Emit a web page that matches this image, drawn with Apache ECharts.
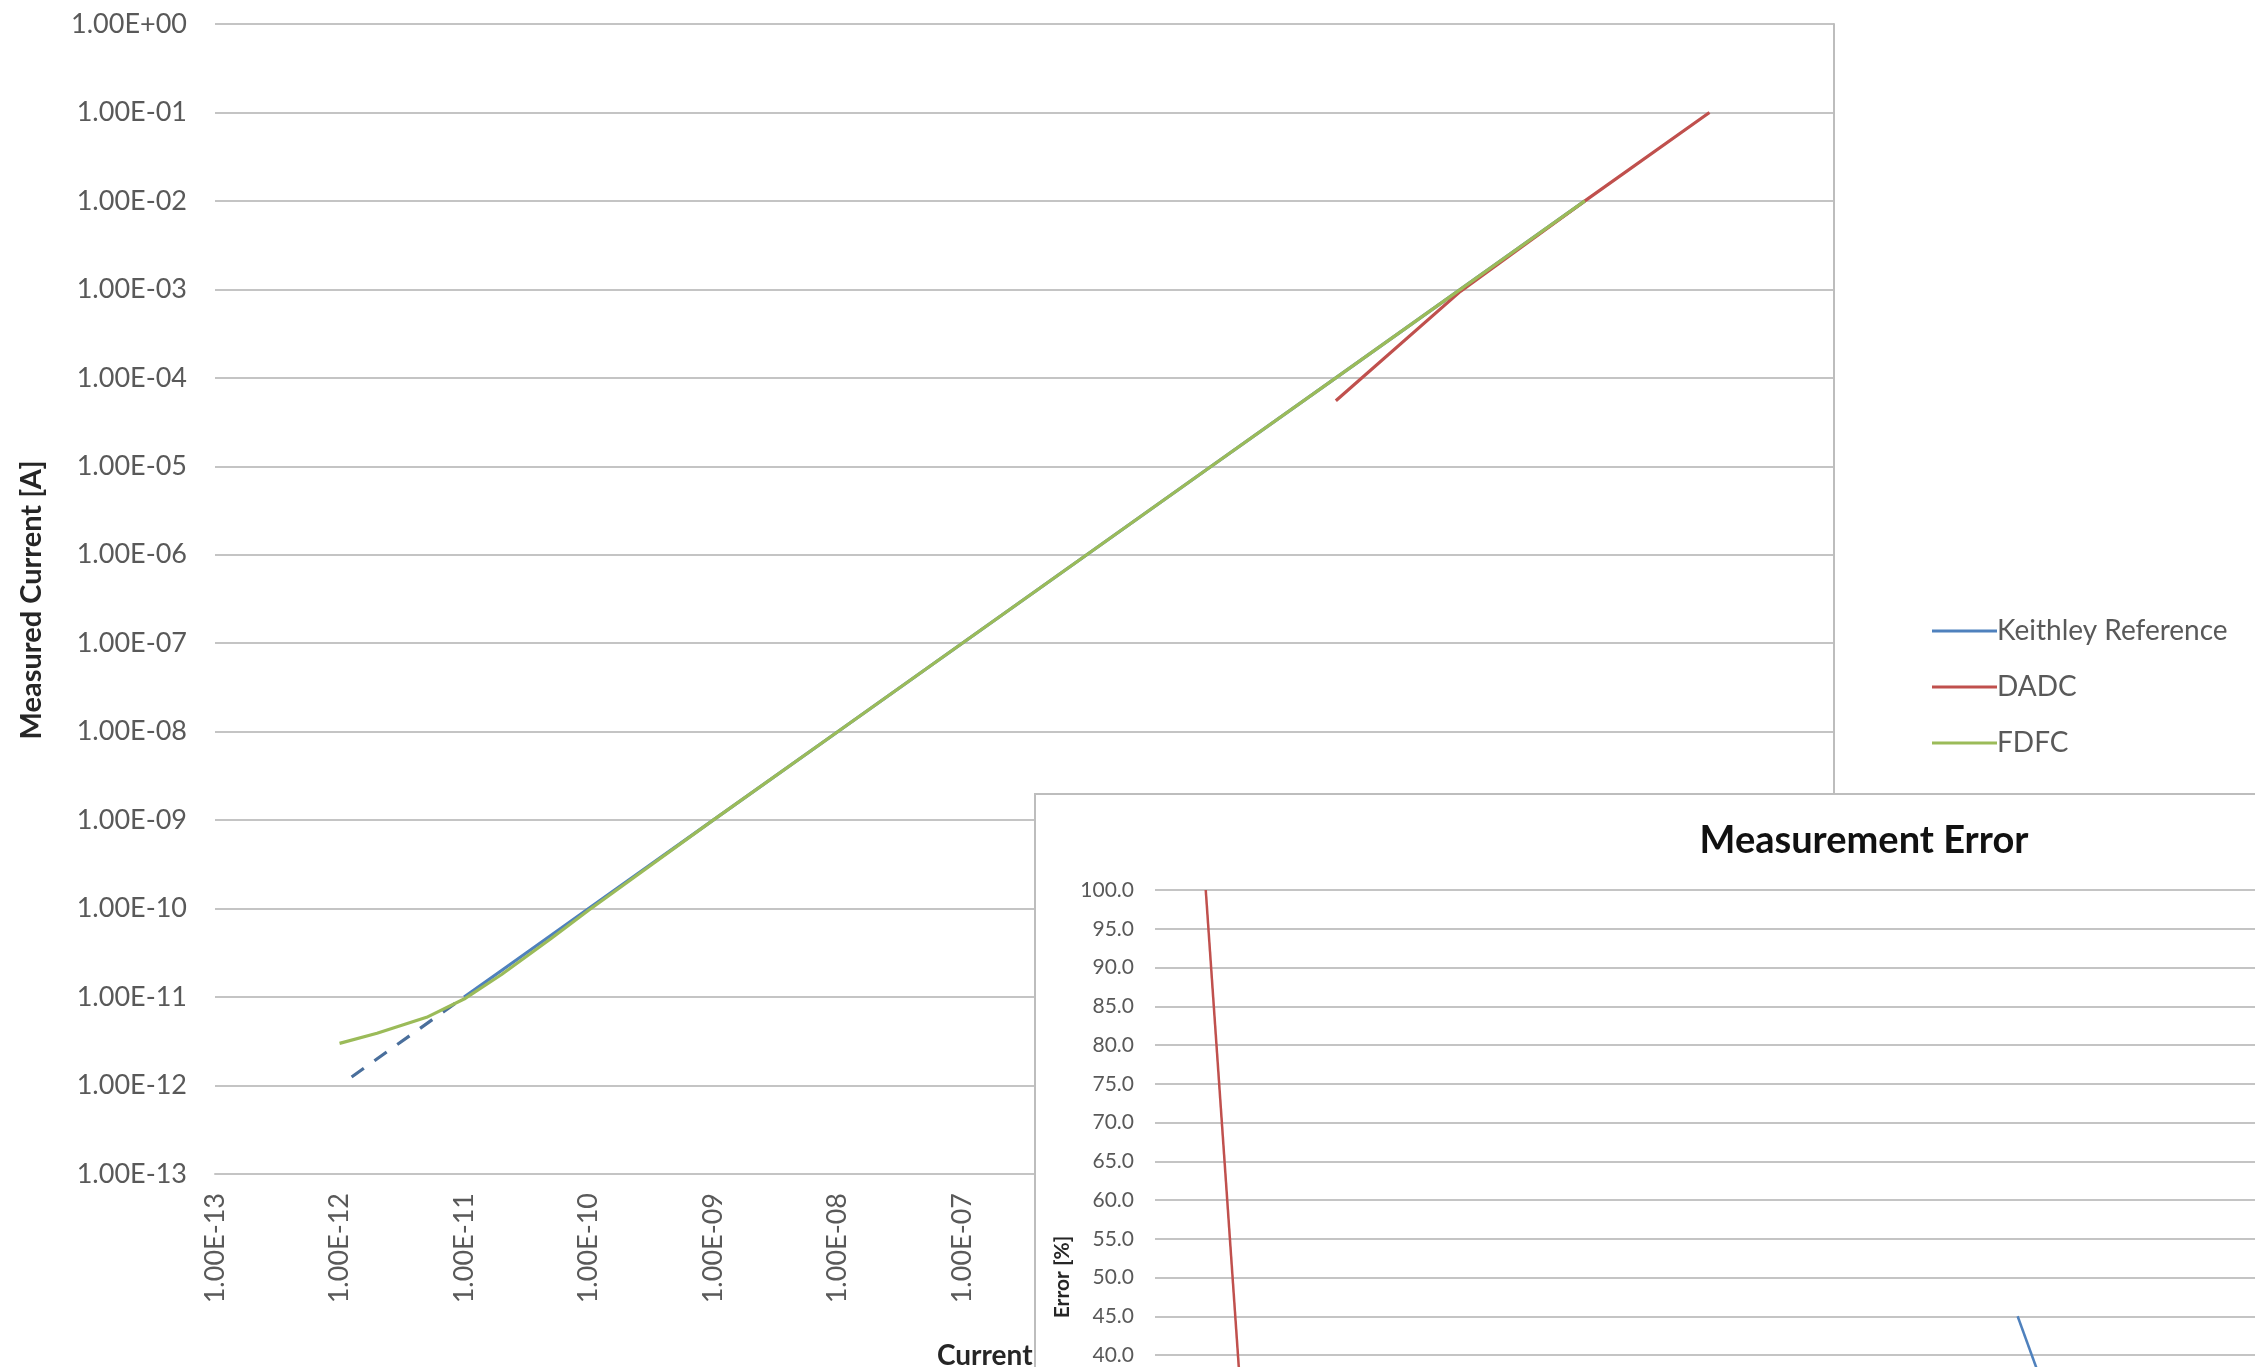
<!DOCTYPE html>
<html>
<head>
<meta charset="utf-8">
<script src="https://cdn.jsdelivr.net/npm/echarts@6/dist/echarts.min.js"></script>
<style>
  html, body { margin: 0; padding: 0; width: 2255px; height: 1367px; overflow: hidden; background: #fff; }
  #main { position: absolute; left: 0; top: 0; width: 2255px; height: 1367px; }
  #inset { position: absolute; left: 1034px; top: 793px; width: 1660px; height: 1002px;
           border: 2px solid #bdbdbd; background: #fff; box-sizing: border-box; }
  #insetChart { position: absolute; left: 0; top: 0; width: 1656px; height: 998px; }
</style>
</head>
<body>
<div id="main"></div>
<div id="inset"><div id="insetChart"></div></div>
<script>
// ---- Measured current vs. source current (A) ----
const keithleySource   = [1e-11, 2e-11, 5e-11, 1e-10, 1e-9, 1e-8, 1e-7, 1e-6, 1e-5, 1e-4, 1e-3, 1e-2];
const keithleyMeasured = [1e-11, 2e-11, 5e-11, 1e-10, 1e-9, 1e-8, 1e-7, 1e-6, 1e-5, 1e-4, 1e-3, 1e-2];
// low-range Keithley readings, drawn dashed
const keithleyLowSource   = [1.25e-12, 1e-11];
const keithleyLowMeasured = [1.25e-12, 1e-11];

const dadcSource   = [1e-4, 1e-3, 1e-2, 1e-1];
const dadcMeasured = [5.5e-5, 9.5e-4, 1.0e-2, 1.0e-1];

const fdfcSource   = [1e-12, 2e-12, 5e-12, 1e-11, 2e-11, 5e-11, 1e-10, 1e-9, 1e-8, 1e-7, 1e-6, 1e-5, 1e-4, 1e-3, 1e-2];
const fdfcMeasured = [3.0e-12, 3.9e-12, 5.9e-12, 9.5e-12, 1.8e-11, 4.6e-11, 9.6e-11, 1e-9, 1e-8, 1e-7, 1e-6, 1e-5, 1e-4, 1e-3, 1e-2];

const seriesNames = ['Keithley Reference', 'DADC', 'FDFC'];

// ---- Measurement error (%) per source current step ----
const errorCategories = [
  '5.00E-13',
  '1.00E-12', '2.00E-12', '5.00E-12',
  '1.00E-11', '2.00E-11', '5.00E-11',
  '1.00E-10', '2.00E-10', '5.00E-10',
  '1.00E-09', '2.00E-09', '5.00E-09',
  '1.00E-08', '2.00E-08', '5.00E-08',
  '1.00E-07', '2.00E-07', '5.00E-07',
  '1.00E-06', '2.00E-06', '5.00E-06',
  '1.00E-05', '2.00E-05', '5.00E-05',
  '1.00E-04', '2.00E-04', '5.00E-04',
  '1.00E-03', '2.00E-03', '5.00E-03',
  '1.00E-02', '2.00E-02', '5.00E-02',
  '1.00E-01'
];
const dadcErrorCats     = ['1.00E-12', '2.00E-12'];
const dadcErrorValues   = [100, 37];
const keithleyErrorCats   = ['1.00E-04', '2.00E-04'];
const keithleyErrorValues = [45, 33];

const COLORS = { blue: '#4F81BD', red: '#C0504D', green: '#9BBB59' };
const LABEL = '#595959';
const GRID_LINE = '#c4c4c4';
const FONT = 'Lato, "Open Sans", sans-serif';

const pairs = (xs, ys) => xs.map((x, i) => [x, ys[i]]);
const sci = (v) => {
  const e = Math.round(Math.log10(v));
  return '1.00E' + (e < 0 ? '-' : '+') + String(Math.abs(e)).padStart(2, '0');
};

const main = echarts.init(document.getElementById('main'), null, { renderer: 'canvas' });
main.setOption({
  backgroundColor: '#fff',
  animation: false,
  grid: { left: 215, right: 421, top: 24, bottom: 193, containLabel: false, outerBoundsMode: 'none' },
  legend: {
    data: seriesNames,
    orient: 'vertical',
    left: 1927, top: 612,
    icon: 'rect',
    itemWidth: 65, itemHeight: 3, itemGap: 28,
    textStyle: { fontFamily: FONT, fontSize: 28, color: LABEL, padding: [0, 0, 0, -5] }
  },
  xAxis: {
    type: 'log', logBase: 10, min: 1e-13, max: 1, interval: 1,
    axisLine: { show: true, lineStyle: { color: GRID_LINE, width: 2 } },
    axisTick: { show: false },
    splitLine: { show: false },
    minorTick: { show: false },
    axisLabel: { rotate: 90, margin: 19, fontFamily: FONT, fontSize: 27, color: LABEL, formatter: sci }
  },
  yAxis: [{
    type: 'log', logBase: 10, min: 1e-13, max: 1, interval: 1,
    axisLine: { show: false },
    axisTick: { show: false },
    splitLine: { show: true, lineStyle: { color: GRID_LINE, width: 2 } },
    axisLabel: { margin: 28, fontFamily: FONT, fontSize: 27, color: LABEL, formatter: sci }
  }, {
    type: 'value', position: 'right', min: 0, max: 1,
    axisLine: { show: true, lineStyle: { color: '#bdbdbd', width: 2 } },
    axisTick: { show: false }, axisLabel: { show: false }, splitLine: { show: false }
  }],
  graphic: [{
    type: 'text', x: 32, y: 600, rotation: Math.PI / 2,
    style: { text: 'Measured Current [A]', fontFamily: FONT, fontWeight: 'bold', fontSize: 29,
             fill: '#262626', textAlign: 'center', textVerticalAlign: 'middle' }
  }, {
    type: 'text', x: 937, y: 1356,
    style: { text: 'Current Source [A]', fontFamily: FONT, fontWeight: 'bold', fontSize: 28,
             fill: '#262626', textAlign: 'left', textVerticalAlign: 'middle' }
  }],
  series: [{
    name: seriesNames[0], type: 'line', symbol: 'none',
    data: pairs(keithleySource, keithleyMeasured),
    lineStyle: { color: COLORS.blue, width: 3.2 }, itemStyle: { color: COLORS.blue }
  }, {
    name: seriesNames[0], type: 'line', symbol: 'none',
    data: pairs(keithleyLowSource, keithleyLowMeasured),
    lineStyle: { color: '#4a6f9c', width: 3.2, type: [15, 13] }, itemStyle: { color: COLORS.blue }
  }, {
    name: seriesNames[1], type: 'line', symbol: 'none',
    data: pairs(dadcSource, dadcMeasured),
    lineStyle: { color: COLORS.red, width: 3.2 }, itemStyle: { color: COLORS.red }
  }, {
    name: seriesNames[2], type: 'line', symbol: 'none',
    data: pairs(fdfcSource, fdfcMeasured),
    lineStyle: { color: COLORS.green, width: 3.2 }, itemStyle: { color: COLORS.green }
  }]
});

const inset = echarts.init(document.getElementById('insetChart'), null, { renderer: 'canvas' });
inset.setOption({
  backgroundColor: '#fff',
  animation: false,
  title: {
    text: 'Measurement Error', left: 'center', top: 22,
    textStyle: { fontFamily: FONT, fontWeight: 'bold', fontSize: 38, color: '#111' }
  },
  grid: { left: 119, top: 95, width: 1184, height: 775, containLabel: false, outerBoundsMode: 'none' },
  xAxis: {
    type: 'category', data: errorCategories, boundaryGap: true,
    axisLine: { show: true, lineStyle: { color: GRID_LINE, width: 2 } },
    axisTick: { show: false },
    axisLabel: { rotate: 90, fontFamily: FONT, fontSize: 20, color: LABEL }
  },
  yAxis: {
    type: 'value', min: 0, max: 100, interval: 5,
    axisLine: { show: false }, axisTick: { show: false },
    splitLine: { show: true, lineStyle: { color: GRID_LINE, width: 2 } },
    axisLabel: { margin: 21, fontFamily: FONT, fontSize: 21, color: LABEL, formatter: (v) => v.toFixed(1) }
  },
  graphic: [{
    type: 'text', x: 26, y: 482, rotation: Math.PI / 2,
    style: { text: 'Error [%]', fontFamily: FONT, fontWeight: 'bold', fontSize: 21,
             fill: '#262626', textAlign: 'center', textVerticalAlign: 'middle' }
  }],
  series: [{
    name: seriesNames[1], type: 'line', symbol: 'none', clip: true,
    data: pairs(dadcErrorCats, dadcErrorValues),
    lineStyle: { color: COLORS.red, width: 2.5 }
  }, {
    name: seriesNames[0], type: 'line', symbol: 'none', clip: true,
    data: pairs(keithleyErrorCats, keithleyErrorValues),
    lineStyle: { color: COLORS.blue, width: 2.5 }
  }]
});
</script>
</body>
</html>
